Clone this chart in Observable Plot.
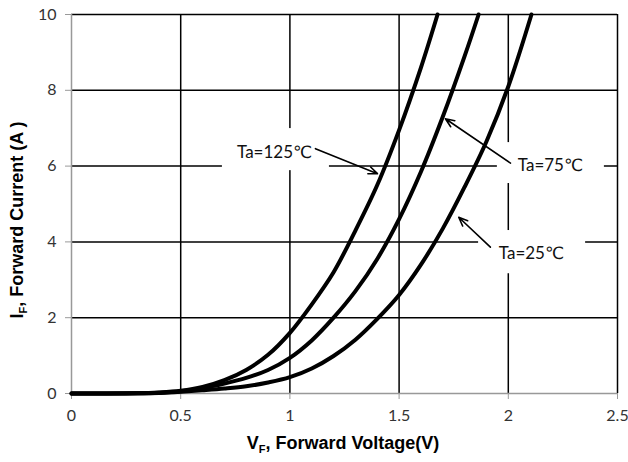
<!DOCTYPE html>
<html><head><meta charset="utf-8">
<script src="https://cdn.jsdelivr.net/npm/d3@7"></script>
<script src="https://cdn.jsdelivr.net/npm/@observablehq/plot@0.6"></script>
<style>body{margin:0;background:#fff} #chart{width:628px;height:462px}</style>
</head><body><div id="chart"></div>
<script>
const xTicks = [0, 0.5, 1, 1.5, 2, 2.5];
const yTicks = [0, 2, 4, 6, 8, 10];

const v25 = [0, 0.3, 0.4, 0.5, 0.6, 0.7, 0.8, 0.9, 1.0, 1.1, 1.2, 1.3, 1.4, 1.5, 1.6, 1.7, 1.8, 1.9, 2.0, 2.106];
const i25 = [0, 0.004, 0.015, 0.045, 0.085, 0.13, 0.19, 0.29, 0.43, 0.66, 0.99, 1.42, 1.97, 2.6, 3.4, 4.35, 5.45, 6.65, 8.1, 10.0];

const v75 = [0, 0.3, 0.4, 0.5, 0.6, 0.7, 0.8, 0.9, 1.0, 1.1, 1.2, 1.3, 1.4, 1.5, 1.6, 1.7, 1.8, 1.864];
const i75 = [0, 0.005, 0.02, 0.06, 0.14, 0.26, 0.41, 0.62, 0.94, 1.4, 2.0, 2.7, 3.55, 4.6, 5.85, 7.3, 8.9, 10.0];

const v125 = [0, 0.3, 0.4, 0.5, 0.6, 0.7, 0.8, 0.9, 1.0, 1.1, 1.2, 1.3, 1.4, 1.5, 1.6, 1.676];
const i125 = [0, 0.005, 0.025, 0.07, 0.17, 0.35, 0.62, 1.02, 1.6, 2.35, 3.2, 4.3, 5.5, 6.95, 8.6, 10.0];

const labelText = ["Ta=125℃", "Ta=75℃", "Ta=25℃"];
const labelV = [0.93, 2.193, 2.106];
const labelI = [6.36, 6.02, 3.69];
const boxV1 = [0.691, 1.950, 1.864];
const boxV2 = [1.181, 2.440, 2.354];
const boxI1 = [5.88, 5.54, 3.16];
const boxI2 = [6.99, 6.62, 4.30];
const arrowFromV = [1.117, 2.01, 1.918];
const arrowFromI = [6.46, 6.08, 3.86];
const arrowToV = [1.401, 1.712, 1.773];
const arrowToI = [5.80, 7.25, 4.65];

const curves = [
  ...v25.map((v, k) => ({s: "25", v, i: i25[k]})),
  ...v75.map((v, k) => ({s: "75", v, i: i75[k]})),
  ...v125.map((v, k) => ({s: "125", v, i: i125[k]}))
];
const notes = labelText.map((t, k) => ({
  t, x: labelV[k], y: labelI[k],
  bx1: boxV1[k], bx2: boxV2[k], by1: boxI1[k], by2: boxI2[k],
  ax1: arrowFromV[k], ay1: arrowFromI[k], ax2: arrowToV[k], ay2: arrowToI[k]
}));

const plot = Plot.plot({
  width: 628, height: 462,
  marginLeft: 71, marginRight: 11, marginTop: 14, marginBottom: 69,
  style: {fontFamily: "Lato, 'DejaVu Sans', sans-serif", fontSize: "16px", color: "#333", background: "#fff"},
  x: {domain: [0, 2.5]},
  y: {domain: [0, 10]},
  marks: [
    Plot.ruleX(xTicks.filter(d => d > 0), {stroke: "#000", strokeWidth: 1.5}),
    Plot.ruleY(yTicks.filter(d => d > 0), {stroke: "#000", strokeWidth: 1.5}),
    Plot.rect(notes, {x1: "bx1", x2: "bx2", y1: "by1", y2: "by2", fill: "#fff"}),
    Plot.ruleX([0], {stroke: "#999", strokeWidth: 1.5}),
    Plot.ruleY([0], {stroke: "#999", strokeWidth: 1.5}),
    Plot.axisX({ticks: xTicks, tickSize: 6, tickPadding: 10, stroke: "#999", fill: "#333", label: null, fontSize: 16, tickFormat: d => String(d)}),
    Plot.axisY({ticks: yTicks, tickSize: 6, tickPadding: 9, stroke: "#999", fill: "#333", label: null, fontSize: 16, tickFormat: d => String(d)}),
    Plot.line(curves, {x: "v", y: "i", z: "s", stroke: "#000", strokeWidth: 4, curve: "catmull-rom"}),
    Plot.arrow(notes, {x1: "ax1", y1: "ay1", x2: "ax2", y2: "ay2", stroke: "#000", strokeWidth: 1.6, headLength: 9, headAngle: 45}),
    Plot.text(notes, {x: "x", y: "y", text: "t", fontSize: 17, fill: "#111"})
  ]
});
document.getElementById("chart").appendChild(plot);

const svg = d3.select(plot);
const xt = svg.append("text").attr("x", 343).attr("y", 449).attr("text-anchor", "middle")
  .attr("font-family", "'Liberation Sans', Arial, sans-serif").attr("font-weight", "bold").attr("font-size", 18).attr("fill", "#000");
xt.append("tspan").text("V");
xt.append("tspan").attr("font-size", 11).attr("dy", 4).text("F");
xt.append("tspan").attr("dy", -4).text(", Forward Voltage(V)");
const yt = svg.append("text").attr("transform", "translate(23,220) rotate(-90)").attr("text-anchor", "middle")
  .attr("font-family", "'Liberation Sans', Arial, sans-serif").attr("font-weight", "bold").attr("font-size", 18).attr("fill", "#000");
yt.append("tspan").text("I");
yt.append("tspan").attr("font-size", 11).attr("dy", 4).text("F");
yt.append("tspan").attr("dy", -4).text(", Forward Current (A )");
</script>
</body></html>
